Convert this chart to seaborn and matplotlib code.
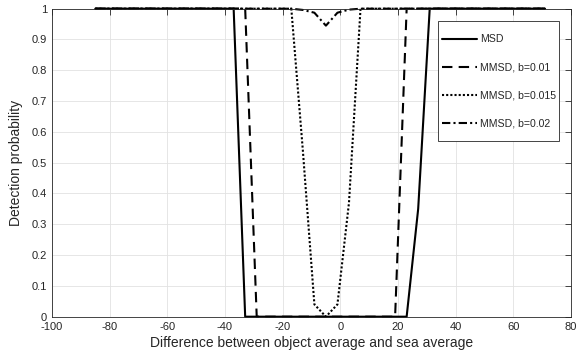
import numpy as np
import pandas as pd
import matplotlib
matplotlib.use("Agg")
import matplotlib.pyplot as plt
from matplotlib.patches import Rectangle
import seaborn as sns

# ---- data ----
diff = [-85, -81, -77, -73, -69, -65, -61, -57, -53, -49,
        -45, -41, -37, -33, -29, -25, -21, -17, -13, -9,
        -5, -1, 3, 7, 11, 15, 19, 23, 27, 31,
        35, 39, 43, 47, 51, 55, 59, 63, 67, 71]

msd = [1, 1, 1, 1, 1, 1, 1, 1, 1, 1,
       1, 1, 1, 0, 0, 0, 0, 0, 0, 0,
       0, 0, 0, 0, 0, 0, 0, 0, 0.35, 1,
       1, 1, 1, 1, 1, 1, 1, 1, 1, 1]

mmsd_010 = [1, 1, 1, 1, 1, 1, 1, 1, 1, 1,
            1, 1, 1, 1, 0, 0, 0, 0, 0, 0,
            0, 0, 0, 0, 0, 0, 0, 1, 1, 1,
            1, 1, 1, 1, 1, 1, 1, 1, 1, 1]

mmsd_015 = [1, 1, 1, 1, 1, 1, 1, 1, 1, 1,
            1, 1, 1, 1, 1, 1, 1, 1, 0.54, 0.04,
            0.0, 0.04, 0.37, 1, 1, 1, 1, 1, 1, 1,
            1, 1, 1, 1, 1, 1, 1, 1, 1, 1]

mmsd_020 = [1, 1, 1, 1, 1, 1, 1, 1, 1, 1,
            1, 1, 1, 1, 1, 1, 1, 1, 0.996, 0.987,
            0.945, 0.987, 0.997, 1, 1, 1, 1, 1, 1, 1,
            1, 1, 1, 1, 1, 1, 1, 1, 1, 1]

labels = ["MSD", "MMSD, b=0.01", "MMSD, b=0.015", "MMSD, b=0.02"]
x_ticks = [-100, -80, -60, -40, -20, 0, 20, 40, 60, 80]
y_ticks = [0, 0.1, 0.2, 0.3, 0.4, 0.5, 0.6, 0.7, 0.8, 0.9, 1]
y_ticklabels = ["0", "0.1", "0.2", "0.3", "0.4", "0.5", "0.6", "0.7", "0.8", "0.9", "1"]

df = pd.concat([
    pd.DataFrame({"x": diff, "p": vals, "series": lab})
    for vals, lab in zip([msd, mmsd_010, mmsd_015, mmsd_020], labels)
], ignore_index=True)

sns.set_style("white")
plt.rcParams['font.family'] = ['Liberation Sans', 'DejaVu Sans']
plt.rcParams['axes.unicode_minus'] = False

ink = "#262626"
fig = plt.figure(figsize=(5.83, 3.58), dpi=100)
ax = fig.add_axes([0.0892, 0.1154, 0.8902, 0.8603])

dash_map = {
    "MSD": "",
    "MMSD, b=0.01": (5, 3),
    "MMSD, b=0.015": (1, 1),
    "MMSD, b=0.02": (4, 1.5, 1, 1.5),
}
sns.lineplot(data=df, x="x", y="p", style="series", style_order=labels,
             dashes=dash_map, color="black", linewidth=1.5, ax=ax,
             estimator=None, sort=False)
for ln in ax.lines:
    ln.set_clip_on(False)

ax.set_xlim(-100, 80)
ax.set_ylim(0, 1)
ax.set_xticks(x_ticks)
ax.set_yticks(y_ticks)
ax.set_yticklabels(y_ticklabels)
ax.grid(True, color="#e2e2e2", linewidth=0.6)
ax.set_axisbelow(True)
ax.tick_params(direction="in", length=4, width=0.6, colors=ink,
               labelsize=8, top=True, right=True, labelcolor=ink)
for sp in ax.spines.values():
    sp.set_color(ink)
    sp.set_linewidth(0.6)

ax.set_xlabel("Difference between object average and sea average", fontsize=10, color=ink, labelpad=3)
ax.set_ylabel("Detection probability", fontsize=10, color=ink, labelpad=6)

# legend box drawn separately so the padding matches the reference
box = Rectangle((0.7443, 0.571), 0.2335, 0.39, transform=ax.transAxes,
                facecolor="white", edgecolor=ink, linewidth=0.6, zorder=4)
ax.add_patch(box)
leg = ax.legend(loc="upper left", bbox_to_anchor=(0.7505, 0.917), borderaxespad=0,
                fontsize=7.6, frameon=False, labelspacing=1.72, borderpad=0,
                handlelength=3.35, handletextpad=0.3)
leg.set_zorder(5)
for t in leg.get_texts():
    t.set_color(ink)

fig.savefig("out.png", dpi=100)
